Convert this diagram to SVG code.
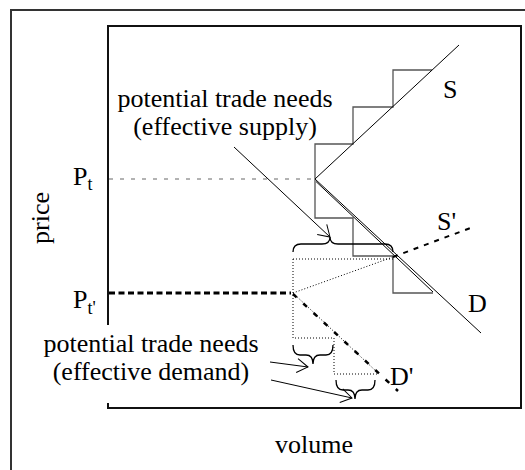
<svg xmlns="http://www.w3.org/2000/svg" width="525" height="470" viewBox="0 0 525 470">
<style>
text{font-family:"Liberation Serif","Times New Roman",serif;fill:#000}
.t{font-size:26px}
.sub{font-size:18px}
.ln{stroke:#000;stroke-width:1;fill:none}
.stair{stroke:#555;stroke-width:1.3;fill:none}
.dot{stroke:#000;stroke-width:1;stroke-dasharray:1,2;fill:none}
.brace{stroke:#000;stroke-width:1.3;fill:none}
</style>
<defs>
<marker id="open" markerUnits="userSpaceOnUse" markerWidth="14" markerHeight="16" refX="12" refY="8" orient="auto" viewBox="0 0 14 16">
<path d="M1,1 L12,8 L1,15" fill="none" stroke="#000" stroke-width="1"/>
</marker>
</defs>
<rect width="525" height="470" fill="#fff"/>
<g id="frame">
<path d="M11,470 V10 H525" fill="none" stroke="#333" stroke-width="2"/>
<path d="M108,325 V26 H521 V408 H108 V403" fill="none" stroke="#111" stroke-width="2"/>
</g>
<g id="axis-labels">
<text class="t" x="314" y="453" text-anchor="middle">volume</text>
<text class="t" transform="translate(49,218) rotate(-90)" text-anchor="middle">price</text>
<text class="t" x="73" y="185">P<tspan class="sub" dy="5">t</tspan></text>
<text class="t" x="73" y="308">P<tspan class="sub" dy="6">t'</tspan></text>
</g>
<g id="price-lines">
<line x1="109" y1="179" x2="314" y2="179" stroke="#666" stroke-width="1" stroke-dasharray="4,7"/>
<line x1="109" y1="293" x2="291" y2="293" stroke="#000" stroke-width="3" stroke-dasharray="6,3.5"/>
</g>
<g id="supply">
<path class="stair" d="M315,179 V144 H353 V107 H393 V70 H432"/>
<line class="ln" x1="315" y1="179" x2="459" y2="45"/>
<text class="t" x="443" y="98">S</text>
</g>
<g id="demand">
<path class="stair" d="M315,179 V218 H353 V256 H393 V293 H433"/>
<line class="ln" x1="315" y1="179" x2="481" y2="333"/>
<line class="ln" x1="316" y1="181.5" x2="433" y2="292"/>
<text class="t" x="468" y="312">D</text>
</g>
<g id="supply-prime">
<line x1="393" y1="257" x2="473" y2="227" stroke="#000" stroke-width="2" stroke-dasharray="5,6"/>
<text class="t" x="437" y="230">S'</text>
</g>
<g id="demand-prime">
<line x1="293" y1="294" x2="398" y2="391" stroke="#000" stroke-width="2.5" stroke-dasharray="5,9"/>
<path class="dot" d="M293,259 H393 M293,259 V338 H334 V374 H378 M293,293 L393,257 M293,293 L378,373"/>
<text class="t" x="390" y="385">D'</text>
</g>
<g id="braces">
<path class="brace" d="M293,252 Q293,244 301,244 L322,244 Q330,244 330,237 Q330,244 338,244 L385,244 Q393,244 393,252"/>
<path class="brace" d="M293,345 Q293,355 300,355 L306,355 Q313,355 313,364 Q313,355 320,355 L326,355 Q333,355 333,345"/>
<path class="brace" d="M336,380 Q336,390 343,390 L348,390 Q355,390 355,399 Q355,390 362,390 L368,390 Q375,390 375,380"/>
</g>
<g id="annotation-supply">
<text class="t" x="225" y="107" text-anchor="middle">potential trade needs</text>
<text class="t" x="225" y="135" text-anchor="middle">(effective supply)</text>
</g>
<g id="annotation-demand">
<text class="t" x="151" y="352" text-anchor="middle">potential trade needs</text>
<text class="t" x="151" y="380" text-anchor="middle">(effective demand)</text>
</g>
<g id="connectors">
<line class="ln" x1="234" y1="147" x2="330" y2="237" marker-end="url(#open)"/>
<line class="ln" x1="270" y1="362" x2="308" y2="367" marker-end="url(#open)"/>
<line class="ln" x1="271" y1="380" x2="352" y2="398" marker-end="url(#open)"/>
</g>
</svg>
